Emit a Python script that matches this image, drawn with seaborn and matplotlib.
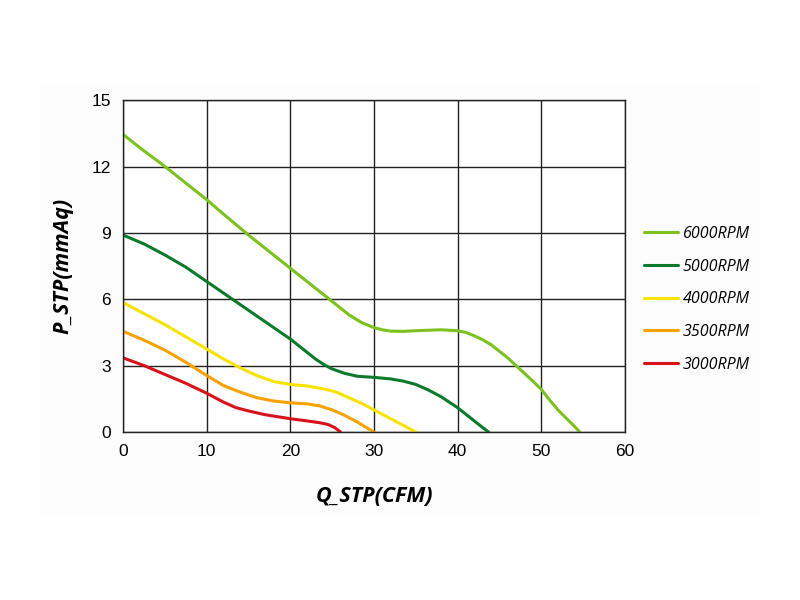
import pandas as pd
import matplotlib.pyplot as plt
import seaborn as sns

# P-Q curves
q_6000 = [0, 2, 5, 8, 10, 12, 15, 18, 20, 22, 25, 27, 28.5, 30, 31, 32, 33.5, 35, 38,
          40, 41, 42, 43, 44, 45, 46, 47, 48, 49, 50, 51, 52, 53, 54, 54.6]
p_6000 = [13.45, 12.85, 12.0, 11.1, 10.5, 9.85, 8.9, 8.0, 7.4, 6.8, 5.9, 5.3, 4.95, 4.72, 4.62,
          4.56, 4.55, 4.58, 4.62, 4.58, 4.5, 4.35, 4.17, 3.95, 3.65, 3.35, 3.0, 2.65, 2.3,
          1.93, 1.45, 1.0, 0.62, 0.25, 0]

q_5000 = [0, 2.5, 5, 7.5, 10, 12.5, 15, 17.5, 20, 21.5, 23, 24, 25, 26.5, 28, 30, 32,
          33.5, 35, 36.5, 38, 39, 40, 41, 42, 43, 43.7]
p_5000 = [8.9, 8.5, 8.0, 7.45, 6.8, 6.15, 5.5, 4.85, 4.2, 3.75, 3.3, 3.05, 2.85, 2.65, 2.52,
          2.47, 2.4, 2.3, 2.15, 1.9, 1.6, 1.35, 1.1, 0.8, 0.5, 0.2, 0]

q_4000 = [0, 2.5, 5, 7.5, 10, 12, 14, 16, 18, 20, 22, 24, 25.5, 27, 28.5, 30, 31.5, 33, 35]
p_4000 = [5.85, 5.35, 4.85, 4.3, 3.75, 3.3, 2.9, 2.55, 2.28, 2.15, 2.08, 1.95, 1.8, 1.55,
          1.3, 1.0, 0.7, 0.4, 0]

q_3500 = [0, 2.5, 5, 7.5, 10, 12, 14, 16, 18, 20, 22, 23.5, 25, 26.5, 28, 29, 30]
p_3500 = [4.55, 4.15, 3.7, 3.15, 2.55, 2.1, 1.8, 1.55, 1.4, 1.32, 1.27, 1.18, 1.0, 0.75,
          0.45, 0.22, 0]

q_3000 = [0, 2.5, 5, 7.5, 10, 12, 13.5, 15, 17, 19, 20, 22, 23.5, 24.5, 25.3, 26]
p_3000 = [3.35, 3.0, 2.6, 2.2, 1.75, 1.35, 1.1, 0.95, 0.78, 0.66, 0.6, 0.5, 0.42, 0.34,
          0.2, 0]

speeds = ['6000RPM', '5000RPM', '4000RPM', '3500RPM', '3000RPM']
colors = ['#7cc21e', '#0b7a2b', '#f7e300', '#f7a200', '#d9121a']

frames = []
for name, q, p in zip(speeds,
                      [q_6000, q_5000, q_4000, q_3500, q_3000],
                      [p_6000, p_5000, p_4000, p_3500, p_3000]):
    frames.append(pd.DataFrame({'Q': q, 'P': p, 'speed': name}))
df = pd.concat(frames, ignore_index=True)

sns.set_style('white')
plt.rcParams['font.family'] = ['Liberation Sans', 'DejaVu Sans']
plt.rcParams['text.color'] = 'black'
plt.rcParams['axes.labelcolor'] = 'black'
plt.rcParams['xtick.color'] = 'black'
plt.rcParams['ytick.color'] = 'black'

fig = plt.figure(figsize=(8, 6), dpi=100)
# very faint off-white panel behind the chart
fig.patches.append(plt.Rectangle((0.05, 0.14), 0.90, 0.72, transform=fig.transFigure,
                                 facecolor='#fcfcfc', edgecolor='none', zorder=-1))
ax = fig.add_axes([0.154, 0.28, 0.627, 0.553])
ax.set_facecolor('white')

sns.lineplot(data=df, x='Q', y='P', hue='speed', palette=dict(zip(speeds, colors)),
             sort=False, linewidth=2.2, ax=ax, legend=False)

ax.set_xlim(0, 60)
ax.set_ylim(0, 15)
ax.set_xticks(range(0, 61, 10))
ax.set_yticks(range(0, 16, 3))
ax.grid(True, color='#222222', linewidth=1.0)
ax.set_axisbelow(True)
for s in ax.spines.values():
    s.set_color('#222222')
    s.set_linewidth(1.0)
ax.tick_params(axis='both', direction='out', length=5, width=1, color='#222222',
               labelsize=12.5, pad=4)

ax.set_xlabel('Q_STP(CFM)', fontsize=15.5, fontweight='bold', fontstyle='italic',
              family=['Open Sans', 'DejaVu Sans'], labelpad=19)
ax.set_ylabel('P_STP(mmAq)', fontsize=15.5, fontweight='bold', fontstyle='italic',
              family=['Open Sans', 'DejaVu Sans'], labelpad=13)

handles = [plt.Line2D([], [], color=c, linewidth=2.2) for c in colors]
leg = ax.legend(handles, speeds, loc='center left', bbox_to_anchor=(1.01, 0.40),
                frameon=False, handlelength=2.1, handletextpad=0.3,
                labelspacing=1.05, prop={'family': ['Open Sans', 'DejaVu Sans'],
                                         'style': 'italic', 'size': 11.5})

fig.savefig('out.png', dpi=100, facecolor='white')
